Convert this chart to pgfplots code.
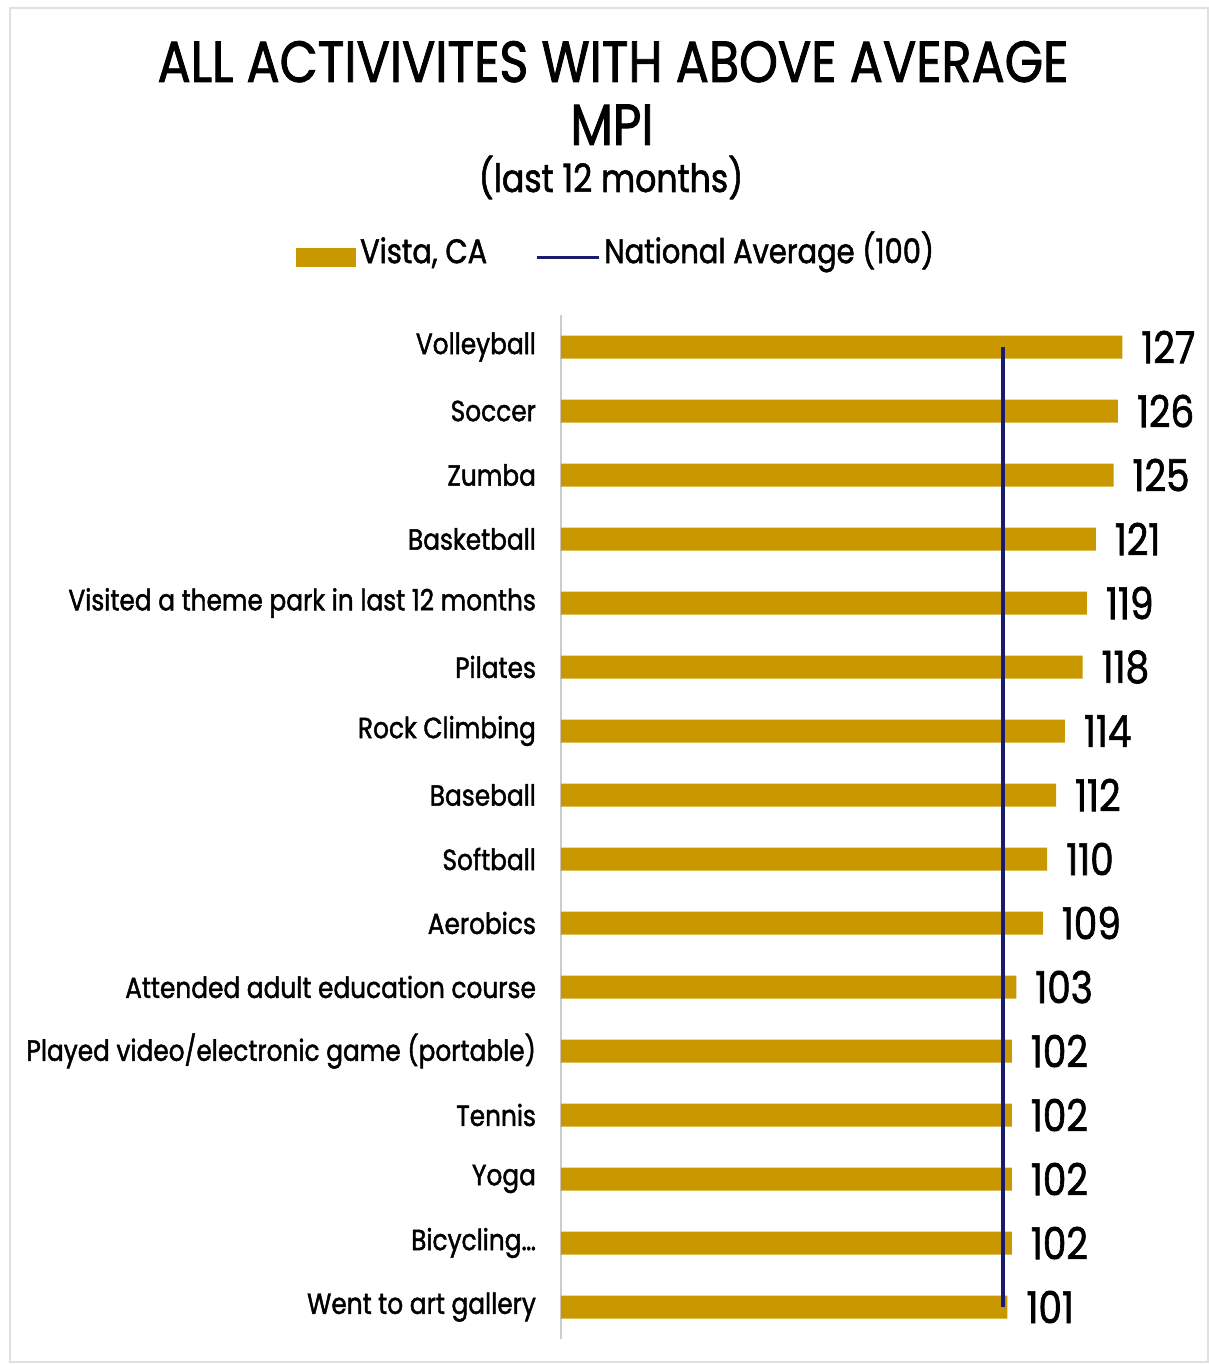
\documentclass[border=0pt]{standalone}
\usepackage{fontspec}
\setmainfont{Poppins}[FakeStretch=0.85, FakeBold=1.5]
\usepackage{pgfplots}
\pgfplotsset{compat=1.18}
\definecolor{gold}{HTML}{C99700}
\definecolor{navy}{HTML}{1A1A6E}
\begin{document}
\begin{tikzpicture}[x=1pt,y=1pt]
\useasboundingbox (-280.5,-13) rectangle (324,669.5);
\draw[black!12, line width=1.2pt] (-275.5,-11.5) rectangle (323.5,665.5);
\begin{axis}[at={(0,0)}, anchor=south west,
  x=2.21pt, y=32pt, y dir=reverse,
  xmin=0, xmax=146, ymin=-0.5, ymax=15.5,
  clip=false,
  axis x line=none, axis y line=left,
  y axis line style={black!20, line width=1pt, -},
  ytick={0,...,15},
  yticklabels={Volleyball,Soccer,Zumba,Basketball,Visited a theme park in last 12 months,Pilates,Rock Climbing,Baseball,Softball,Aerobics,Attended adult education course,Played video/electronic game (portable),Tennis,Yoga,Bicycling…,Went to art gallery},
  major tick length=0pt,
  yticklabel style={font=\fontsize{14.6}{14.6}\selectfont, xshift=-9pt},
  /pgf/number format/assume math mode=true,
  legend columns=2,
  legend style={draw=none, fill=none, at={(axis description cs:0.087,1.056)}, anchor=center,
    font=\fontsize{17}{17}\selectfont,
    nodes={text height=0.75em, text depth=0.2em},
    /tikz/every even column/.append style={column sep=22pt}},
]
\addplot[xbar, bar width=11.5pt, fill=gold, draw=none,
  nodes near coords, point meta=x,
  nodes near coords style={font=\fontsize{22}{22}\selectfont, anchor=west, xshift=6pt, text=black},
  legend image code/.code={\fill[gold] (0pt,-4.75pt) rectangle (30pt,4.75pt);}]
  coordinates {(127,0) (126,1) (125,2) (121,3) (119,4) (118,5) (114,6) (112,7) (110,8) (109,9) (103,10) (102,11) (102,12) (102,13) (102,14) (101,15)};
\addlegendentry{Vista, CA}
\addplot[sharp plot, navy, line width=1.6pt,
  legend image code/.code={\draw[navy, line width=1.6pt] (0pt,0pt) -- (31pt,0pt);}]
  coordinates {(100,0) (100,15)};
\addlegendentry{National Average (100)}
\end{axis}
\node[anchor=base, font=\fontsize{29}{29}\selectfont] at (26,628.5) {ALL ACTIVIVITES WITH ABOVE AVERAGE};
\node[anchor=base, font=\fontsize{29}{29}\selectfont] at (25.5,597) {MPI};
\node[anchor=base, font=\fontsize{19.5}{19.5}\selectfont] at (25,573.5) {(last 12 months)};
\end{tikzpicture}
\end{document}
